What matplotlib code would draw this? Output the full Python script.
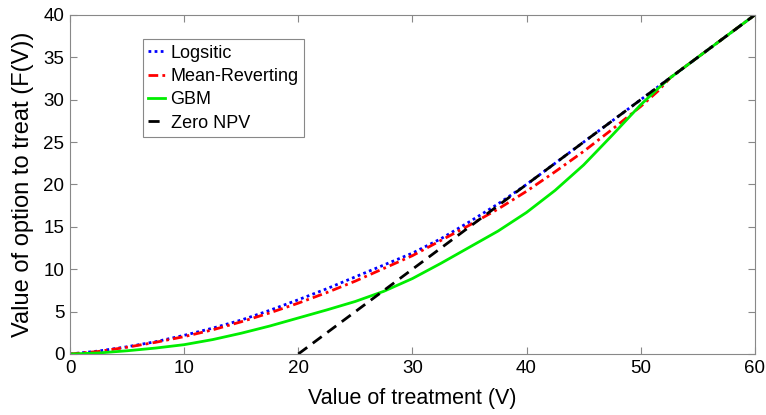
import numpy as np
import matplotlib
matplotlib.use('Agg')
import matplotlib.pyplot as plt

plt.rcParams['font.family'] = ['Liberation Sans', 'DejaVu Sans']

# values
v_grid = [0, 2.5, 5, 7.5, 10, 12.5, 15, 17.5, 20, 22.5, 25, 27.5, 30, 32.5, 35, 37.5, 40]
f_logistic = [0, 0.35, 0.85, 1.45, 2.2, 3.05, 4.0, 5.15, 6.4, 7.7, 9.1, 10.5, 11.9, 13.6, 15.6, 17.7, 20.0]
v_log_tail = [60]
f_log_tail = [40]

v_grid2 = v_grid + [42.5, 45, 47.5, 50, 51.5, 52.6, 60]
f_meanrev = [0, 0.3, 0.8, 1.38, 2.05, 2.85, 3.8, 4.85, 6.0, 7.25, 8.6, 10.1, 11.6, 13.4, 15.2, 17.1, 19.2,
             21.5, 23.9, 26.5, 29.2, 31.0, 32.6, 40]
f_gbm = [0, 0.12, 0.38, 0.7, 1.1, 1.7, 2.45, 3.3, 4.25, 5.2, 6.2, 7.4, 8.9, 10.7, 12.6, 14.5, 16.7,
         19.3, 22.3, 25.8, 29.4, 31.3, 32.6, 40]

v_npv = [20, 60]
f_npv = [0, 40]

fig = plt.figure(figsize=(7.66, 4.15), dpi=100)
ax = fig.add_axes([0.0914, 0.147, 0.894, 0.817])

ax.plot(v_grid + v_log_tail, f_logistic + f_log_tail, color='#0000ff', ls=(0, (1, 1.2)), lw=2, label='Logsitic')
ax.plot(v_grid2, f_meanrev, color='#ff0000', ls=(0, (3.5, 1.5, 1, 1.5)), lw=2, label='Mean-Reverting')
ax.plot(v_grid2, f_gbm, color='#00ee00', ls='-', lw=2, label='GBM')
ax.plot(v_npv, f_npv, color='black', ls=(0, (4, 2.5)), lw=2, label='Zero NPV')

ax.set_xlim(0, 60)
ax.set_ylim(0, 40)
ax.set_xticks(np.arange(0, 61, 10))
ax.set_yticks(np.arange(0, 41, 5))
ax.tick_params(direction='in', length=5, width=0.8, color='#888888', labelsize=13.5,
               top=True, right=True, pad=4)
for s in ax.spines.values():
    s.set_color('#888888')
    s.set_linewidth(0.8)

ax.set_xlabel('Value of treatment (V)', fontsize=15.5, labelpad=8)
ax.set_ylabel('Value of option to treat (F(V))', fontsize=17, labelpad=7)

leg = ax.legend(loc='upper left', bbox_to_anchor=(0.106, 0.928), borderaxespad=0,
                fontsize=13, handlelength=0.95, handletextpad=0.3, labelspacing=0.35,
                borderpad=0.3, fancybox=False, framealpha=1)
leg.get_frame().set_edgecolor('#888888')
leg.get_frame().set_linewidth(0.8)

plt.savefig('out.png', dpi=100)
